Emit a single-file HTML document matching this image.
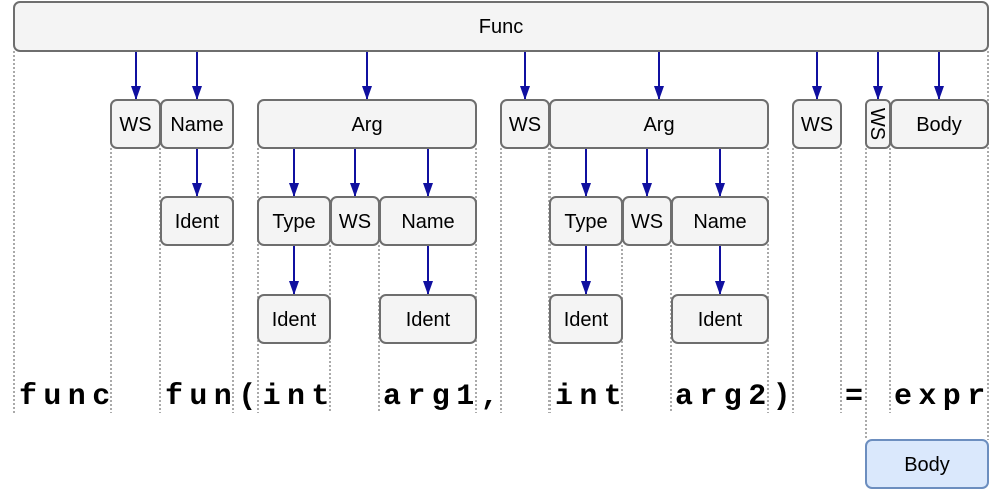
<!DOCTYPE html>
<html><head><meta charset="utf-8"><style>
html,body{margin:0;padding:0;background:#fff;}
svg{display:block;}
.b{fill:#f4f4f4;stroke:#6e6e6e;stroke-width:2;}
.t{font-family:"Liberation Sans",sans-serif;font-size:20px;fill:#000;text-anchor:middle;}
.d{stroke:#aaa;stroke-width:2;stroke-dasharray:2,2;fill:none;}
.a{stroke:#1010a0;stroke-width:2;}
.c{font-family:"Liberation Mono",monospace;font-weight:bold;font-size:30px;letter-spacing:6.4px;fill:#000;}
</style></head><body>
<svg width="1004" height="493" viewBox="0 0 1004 493">
<defs>
<marker id="ar" viewBox="0 0 10 14" markerWidth="10" markerHeight="14" refX="5" refY="14" orient="0" markerUnits="userSpaceOnUse"><path d="M0,0 L10,0 L5,14 Z" fill="#1010a0"/></marker></defs>
<g class="d">
<path d="M14,51V413M988,51V440M866,148V440"/>
<path d="M111,148V413M160,148V413M233,148V413M258,148V413M476,148V413M501,148V413M549,148V413M550,148V413M768,148V413M793,148V413M841,148V413M890,148V413"/>
<path d="M330,245V413M379,245V413M622,245V413M671,245V413"/>
</g>
<g class="a">
<line x1="136" y1="51" x2="136" y2="100" marker-end="url(#ar)"/>
<line x1="197" y1="51" x2="197" y2="100" marker-end="url(#ar)"/>
<line x1="367" y1="51" x2="367" y2="100" marker-end="url(#ar)"/>
<line x1="525" y1="51" x2="525" y2="100" marker-end="url(#ar)"/>
<line x1="659" y1="51" x2="659" y2="100" marker-end="url(#ar)"/>
<line x1="817" y1="51" x2="817" y2="100" marker-end="url(#ar)"/>
<line x1="878" y1="51" x2="878" y2="100" marker-end="url(#ar)"/>
<line x1="939" y1="51" x2="939" y2="100" marker-end="url(#ar)"/>
<line x1="197" y1="148" x2="197" y2="197" marker-end="url(#ar)"/>
<line x1="294" y1="148" x2="294" y2="197" marker-end="url(#ar)"/>
<line x1="355" y1="148" x2="355" y2="197" marker-end="url(#ar)"/>
<line x1="428" y1="148" x2="428" y2="197" marker-end="url(#ar)"/>
<line x1="586" y1="148" x2="586" y2="197" marker-end="url(#ar)"/>
<line x1="647" y1="148" x2="647" y2="197" marker-end="url(#ar)"/>
<line x1="720" y1="148" x2="720" y2="197" marker-end="url(#ar)"/>
<line x1="294" y1="245" x2="294" y2="295" marker-end="url(#ar)"/>
<line x1="428" y1="245" x2="428" y2="295" marker-end="url(#ar)"/>
<line x1="586" y1="245" x2="586" y2="295" marker-end="url(#ar)"/>
<line x1="720" y1="245" x2="720" y2="295" marker-end="url(#ar)"/>
</g>
<rect class="b" x="14" y="2" width="974" height="49" rx="6"/><text class="t" x="501" y="33">Func</text>
<rect class="b" x="111" y="100" width="49" height="48" rx="6"/><text class="t" x="135.5" y="131">WS</text>
<rect class="b" x="161" y="100" width="72" height="48" rx="6"/><text class="t" x="197" y="131">Name</text>
<rect class="b" x="258" y="100" width="218" height="48" rx="6"/><text class="t" x="367" y="131">Arg</text>
<rect class="b" x="501" y="100" width="48" height="48" rx="6"/><text class="t" x="525" y="131">WS</text>
<rect class="b" x="550" y="100" width="218" height="48" rx="6"/><text class="t" x="659" y="131">Arg</text>
<rect class="b" x="793" y="100" width="48" height="48" rx="6"/><text class="t" x="817" y="131">WS</text>
<rect class="b" x="866" y="100" width="24" height="48" rx="5"/><text class="t" transform="translate(871,124) rotate(90)" x="0" y="0">WS</text>
<rect class="b" x="891" y="100" width="97" height="48" rx="6"/><text class="t" x="939" y="131">Body</text>
<rect class="b" x="161" y="197" width="72" height="48" rx="6"/><text class="t" x="197" y="228">Ident</text>
<rect class="b" x="258" y="197" width="72" height="48" rx="6"/><text class="t" x="294" y="228">Type</text>
<rect class="b" x="331" y="197" width="48" height="48" rx="6"/><text class="t" x="355" y="228">WS</text>
<rect class="b" x="380" y="197" width="96" height="48" rx="6"/><text class="t" x="428" y="228">Name</text>
<rect class="b" x="550" y="197" width="72" height="48" rx="6"/><text class="t" x="586" y="228">Type</text>
<rect class="b" x="623" y="197" width="48" height="48" rx="6"/><text class="t" x="647" y="228">WS</text>
<rect class="b" x="672" y="197" width="96" height="48" rx="6"/><text class="t" x="720" y="228">Name</text>
<rect class="b" x="258" y="295" width="72" height="48" rx="6"/><text class="t" x="294" y="326">Ident</text>
<rect class="b" x="380" y="295" width="96" height="48" rx="6"/><text class="t" x="428" y="326">Ident</text>
<rect class="b" x="550" y="295" width="72" height="48" rx="6"/><text class="t" x="586" y="326">Ident</text>
<rect class="b" x="672" y="295" width="96" height="48" rx="6"/><text class="t" x="720" y="326">Ident</text>
<rect x="866" y="440" width="122" height="48" rx="6" fill="#dae8fc" stroke="#6c8ebf" stroke-width="2"/><text class="t" x="927" y="471">Body</text>
<text class="c" x="19" y="404">func</text>
<text class="c" x="165" y="404">fun(int</text>
<text class="c" x="383" y="404">arg1,</text>
<text class="c" x="555" y="404">int</text>
<text class="c" x="675" y="404">arg2)</text>
<text class="c" x="845" y="404">=</text>
<text class="c" x="894" y="404">expr</text>
</svg>
</body></html>
